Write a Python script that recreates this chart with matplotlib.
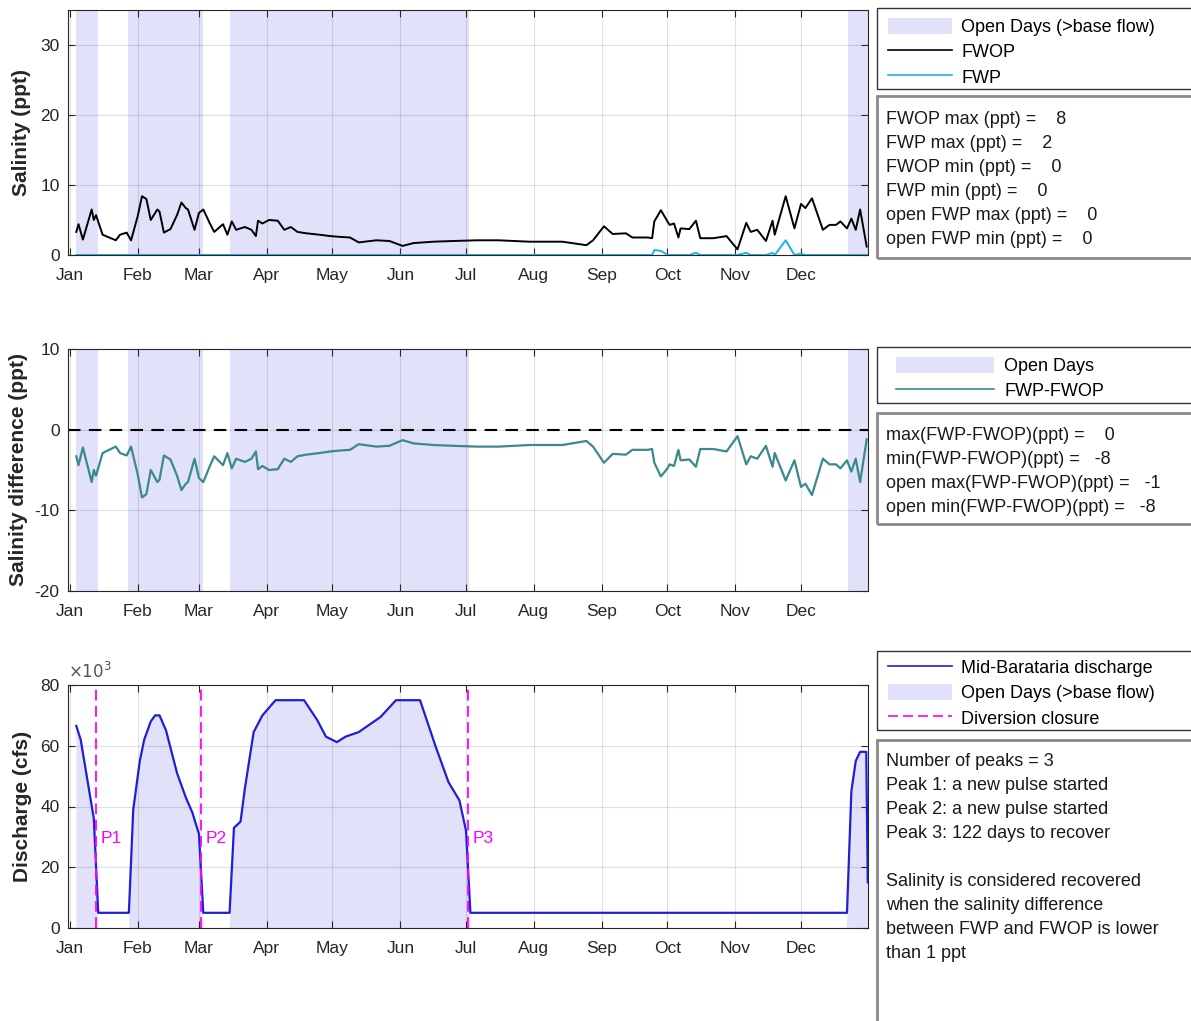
import matplotlib.pyplot as plt
import numpy as np
from matplotlib.patches import Rectangle, Patch
from matplotlib.lines import Line2D

plt.rcParams['font.family'] = ['Liberation Sans', 'DejaVu Sans']
plt.rcParams['axes.unicode_minus'] = False

# ---- data (day of year) ----
month_days = [0, 31, 59, 90, 120, 151, 181, 212, 243, 273, 304, 334]
month_labels = ['Jan', 'Feb', 'Mar', 'Apr', 'May', 'Jun', 'Jul', 'Aug', 'Sep', 'Oct', 'Nov', 'Dec']

sal_days = [3, 4, 6, 10, 11, 12, 15, 18, 21, 23, 26, 28, 31, 33, 35, 37, 40, 41, 43, 46,
            49, 51, 53, 54, 57, 59, 61, 64, 66, 70, 72, 74, 76, 80, 83, 85, 86, 88, 91, 95,
            98, 101, 104, 108, 114, 119, 123, 128, 132, 140, 146, 152, 157, 166, 175, 186, 196, 210, 225, 236,
            239, 244, 248, 254, 257, 260, 264, 266, 267, 270, 273, 274, 276, 278, 279, 283, 286, 288, 294, 300,
            305, 309, 311, 314, 318, 321, 322, 327, 331, 334, 336, 339, 344, 347, 350, 352, 355, 357, 359, 361,
            364]
fwop = [3.3, 4.4, 2.2, 6.5, 5.0, 5.7, 2.9, 2.5, 2.1, 2.9, 3.2, 2.1, 5.5, 8.4, 8.0, 5.0, 6.5, 6.2, 3.2, 3.7,
        5.7, 7.5, 6.7, 6.5, 3.6, 6.0, 6.5, 4.5, 3.3, 4.4, 2.9, 4.8, 3.6, 4.0, 3.6, 2.7, 4.9, 4.5, 5.0, 4.9,
        3.6, 4.0, 3.3, 3.1, 2.9, 2.7, 2.6, 2.5, 1.8, 2.1, 2.0, 1.3, 1.7, 1.9, 2.0, 2.1, 2.1, 1.9, 1.9, 1.4,
        2.1, 4.1, 3.0, 3.1, 2.5, 2.5, 2.5, 2.4, 4.8, 6.4, 4.8, 4.3, 4.5, 2.5, 3.8, 3.7, 4.9, 2.4, 2.4, 2.7,
        0.8, 4.6, 3.3, 3.6, 2.0, 4.9, 2.9, 8.4, 3.8, 7.3, 6.7, 8.1, 3.6, 4.3, 4.3, 4.8, 3.8, 5.2, 3.6, 6.5,
        1.2]
fwp = [0, 0, 0, 0, 0, 0, 0, 0, 0, 0, 0, 0, 0, 0, 0, 0, 0, 0, 0, 0,
       0, 0, 0, 0, 0, 0, 0, 0, 0, 0, 0, 0, 0, 0, 0, 0, 0, 0, 0, 0,
       0, 0, 0, 0, 0, 0, 0, 0, 0, 0, 0, 0, 0, 0, 0, 0, 0, 0, 0, 0,
       0, 0, 0, 0, 0, 0, 0, 0, 0.7, 0.6, 0, 0, 0, 0, 0, 0, 0.3, 0, 0, 0,
       0, 0.3, 0, 0, 0, 0.3, 0, 2.1, 0, 0.2, 0, 0, 0, 0, 0, 0, 0, 0, 0, 0,
       0]

q_days = [3, 5, 8, 11, 13, 27, 29, 32, 34, 37, 39, 41, 44, 49, 53, 56, 59, 61, 73, 75,
          78, 80, 84, 88, 94, 107, 113, 117, 122, 126, 132, 142, 149, 160, 167, 173, 178, 181, 183, 355,
          357, 359, 361, 363.8, 364.5]
discharge_k = [66.5, 62, 49, 36, 5, 5, 39, 55, 62, 68, 70, 70, 65, 51, 43, 38, 31, 5, 5, 33,
               35, 46, 64.5, 70, 75, 75, 68.5, 63, 61.2, 63, 64.5, 69.5, 75, 75, 60, 48, 42, 32, 5, 5,
               45, 55, 58, 58, 15]
base_flow = 5

open_start = [2.7, 26.8, 73.0, 355.3]
open_end = [12.8, 60.7, 182.4, 364.6]
closure_days = [11.8, 59.8, 181.8]
closure_labels = ['P1', 'P2', 'P3']

stats1 = ['FWOP max (ppt) =    8', 'FWP max (ppt) =    2', 'FWOP min (ppt) =    0',
          'FWP min (ppt) =    0', 'open FWP max (ppt) =    0', 'open FWP min (ppt) =    0']
stats2 = ['max(FWP-FWOP)(ppt) =    0', 'min(FWP-FWOP)(ppt) =   -8',
          'open max(FWP-FWOP)(ppt) =   -1', 'open min(FWP-FWOP)(ppt) =   -8']
stats3 = ['Number of peaks = 3', 'Peak 1: a new pulse started', 'Peak 2: a new pulse started',
          'Peak 3: 122 days to recover', '', 'Salinity is considered recovered',
          'when the salinity difference', 'between FWP and FWOP is lower', 'than 1 ppt']

sal_days = np.array(sal_days)
fwop = np.array(fwop)
fwp = np.array(fwp)
diff = fwp - fwop
q_days = np.array(q_days)
discharge_k = np.array(discharge_k)

# ---- styling ----
W, H = 1191, 1021
shade = '#e1e1fa'
axc = '#262626'
fs_tick = 12.5
fs_leg = 13

fig = plt.figure(figsize=(W / 100, H / 100), dpi=100)


def px_axes(left, top, right, bottom):
    return fig.add_axes([left / W, 1 - bottom / H, (right - left) / W, (bottom - top) / H])


def style(ax, ylim, yticks, ylabel, label_x):
    ax.set_xlim(-0.8, 364.6)
    ax.set_ylim(*ylim)
    ax.set_xticks(month_days)
    ax.set_xticklabels(month_labels)
    ax.set_yticks(yticks)
    ax.tick_params(direction='in', length=5, width=0.8, color=axc, labelcolor=axc,
                   labelsize=fs_tick, pad=6, top=True, right=True)
    ax.tick_params(axis='x', pad=9.5)
    ax.grid(True, color='#000000', alpha=0.12, lw=0.8)
    for s in ax.spines.values():
        s.set_color(axc)
        s.set_linewidth(0.8)
    ax.set_ylabel(ylabel, fontsize=15, fontweight='bold', color=axc)
    ax.yaxis.set_label_coords(label_x, 0.5)


def fig_rect(x0, y0, x1, y1, ec, lw):
    fig.add_artist(Rectangle((x0 / W, 1 - y1 / H), (x1 - x0) / W, (y1 - y0) / H,
                             transform=fig.transFigure, fill=False, edgecolor=ec, lw=lw))


def fig_lines(lines, x, y0, step):
    for i, s in enumerate(lines):
        fig.text(x / W, 1 - (y0 + i * step) / H, s, fontsize=fs_leg, color='#1a1a1a', va='center')


leg_kw = dict(loc='upper left', bbox_transform=fig.transFigure, frameon=False, borderpad=0,
              borderaxespad=0, fontsize=fs_leg, handleheight=1.0, labelspacing=0.38)

# ---- panel 1: salinity ----
ax1 = px_axes(68, 10, 868, 255)
for a, b in zip(open_start, open_end):
    ax1.axvspan(a, b, color=shade, lw=0, zorder=0.5)
ax1.plot(sal_days, fwop, color='black', lw=1.4)
ax1.plot(sal_days, fwp, color='#18b4e6', lw=1.4, clip_on=False)
style(ax1, (0, 35), [0, 10, 20, 30], 'Salinity (ppt)', -0.046)

h1 = [Patch(facecolor=shade, edgecolor='none'), Line2D([], [], color='black', lw=1.2),
      Line2D([], [], color='#18b4e6', lw=1.2)]
ax1.legend(h1, ['Open Days (>base flow)', 'FWOP', 'FWP'],
           bbox_to_anchor=(888 / W, 1 - 18 / H), handlelength=3.55, handletextpad=0.5, **leg_kw)
fig_rect(877, 8, 1200, 89, '#333333', 1.0)
fig_rect(877, 96, 1200, 258, '#8a8a8a', 2.0)
fig_lines(stats1, 886, 119, 24)

# ---- panel 2: salinity difference ----
ax2 = px_axes(68, 349, 868, 591)
for a, b in zip(open_start, open_end):
    ax2.axvspan(a, b, color=shade, lw=0, zorder=0.5)
ax2.axhline(0, color='black', ls=(0, (6, 4)), lw=1.5)
ax2.plot(sal_days, diff, color='#3a8a8c', lw=1.6)
style(ax2, (-20, 10), [-20, -10, 0, 10], 'Salinity difference (ppt)', -0.05)

h2 = [Patch(facecolor=shade, edgecolor='none'), Line2D([], [], color='#3a8a8c', lw=1.2)]
ax2.legend(h2, ['Open Days', 'FWP-FWOP'],
           bbox_to_anchor=(896 / W, 1 - 357 / H), handlelength=5.4, handletextpad=0.6, **leg_kw)
fig_rect(877, 347, 1200, 403, '#333333', 1.0)
fig_rect(877, 413, 1200, 524, '#8a8a8a', 2.0)
fig_lines(stats2, 886, 435, 24)

# ---- panel 3: discharge ----
ax3 = px_axes(68, 685, 868, 928)
ax3.fill_between(q_days, 0, discharge_k, where=discharge_k > base_flow, interpolate=True,
                 color=shade, lw=0, zorder=0.5)
ax3.plot(q_days, discharge_k, color='#1f1fd6', lw=1.6)
for d, lab in zip(closure_days, closure_labels):
    ax3.axvline(d, color='#ff00ff', ls=(0, (6, 3)), lw=1.3)
    ax3.text(d + 2.3, 29.5, lab, color='#ff00ff', fontsize=fs_tick, va='center')
style(ax3, (0, 80), [0, 20, 40, 60, 80], 'Discharge (cfs)', -0.045)
ax3.text(0, 1.015, r'$\times10^{3}$', transform=ax3.transAxes, fontsize=12, color='#555555',
         va='bottom', ha='left')

h3 = [Line2D([], [], color='#1f1fd6', lw=1.2), Patch(facecolor=shade, edgecolor='none'),
      Line2D([], [], color='#ff00ff', lw=1.2, ls=(0, (6, 3)))]
ax3.legend(h3, ['Mid-Barataria discharge', 'Open Days (>base flow)', 'Diversion closure'],
           bbox_to_anchor=(888 / W, 1 - 659 / H), handlelength=3.55, handletextpad=0.5, **leg_kw)
fig_rect(877, 651, 1200, 730, '#333333', 1.0)
fig_rect(877, 740, 1200, 1040, '#8a8a8a', 2.0)
fig_lines(stats3, 886, 761, 24)

fig.savefig('out.png', dpi=100)
